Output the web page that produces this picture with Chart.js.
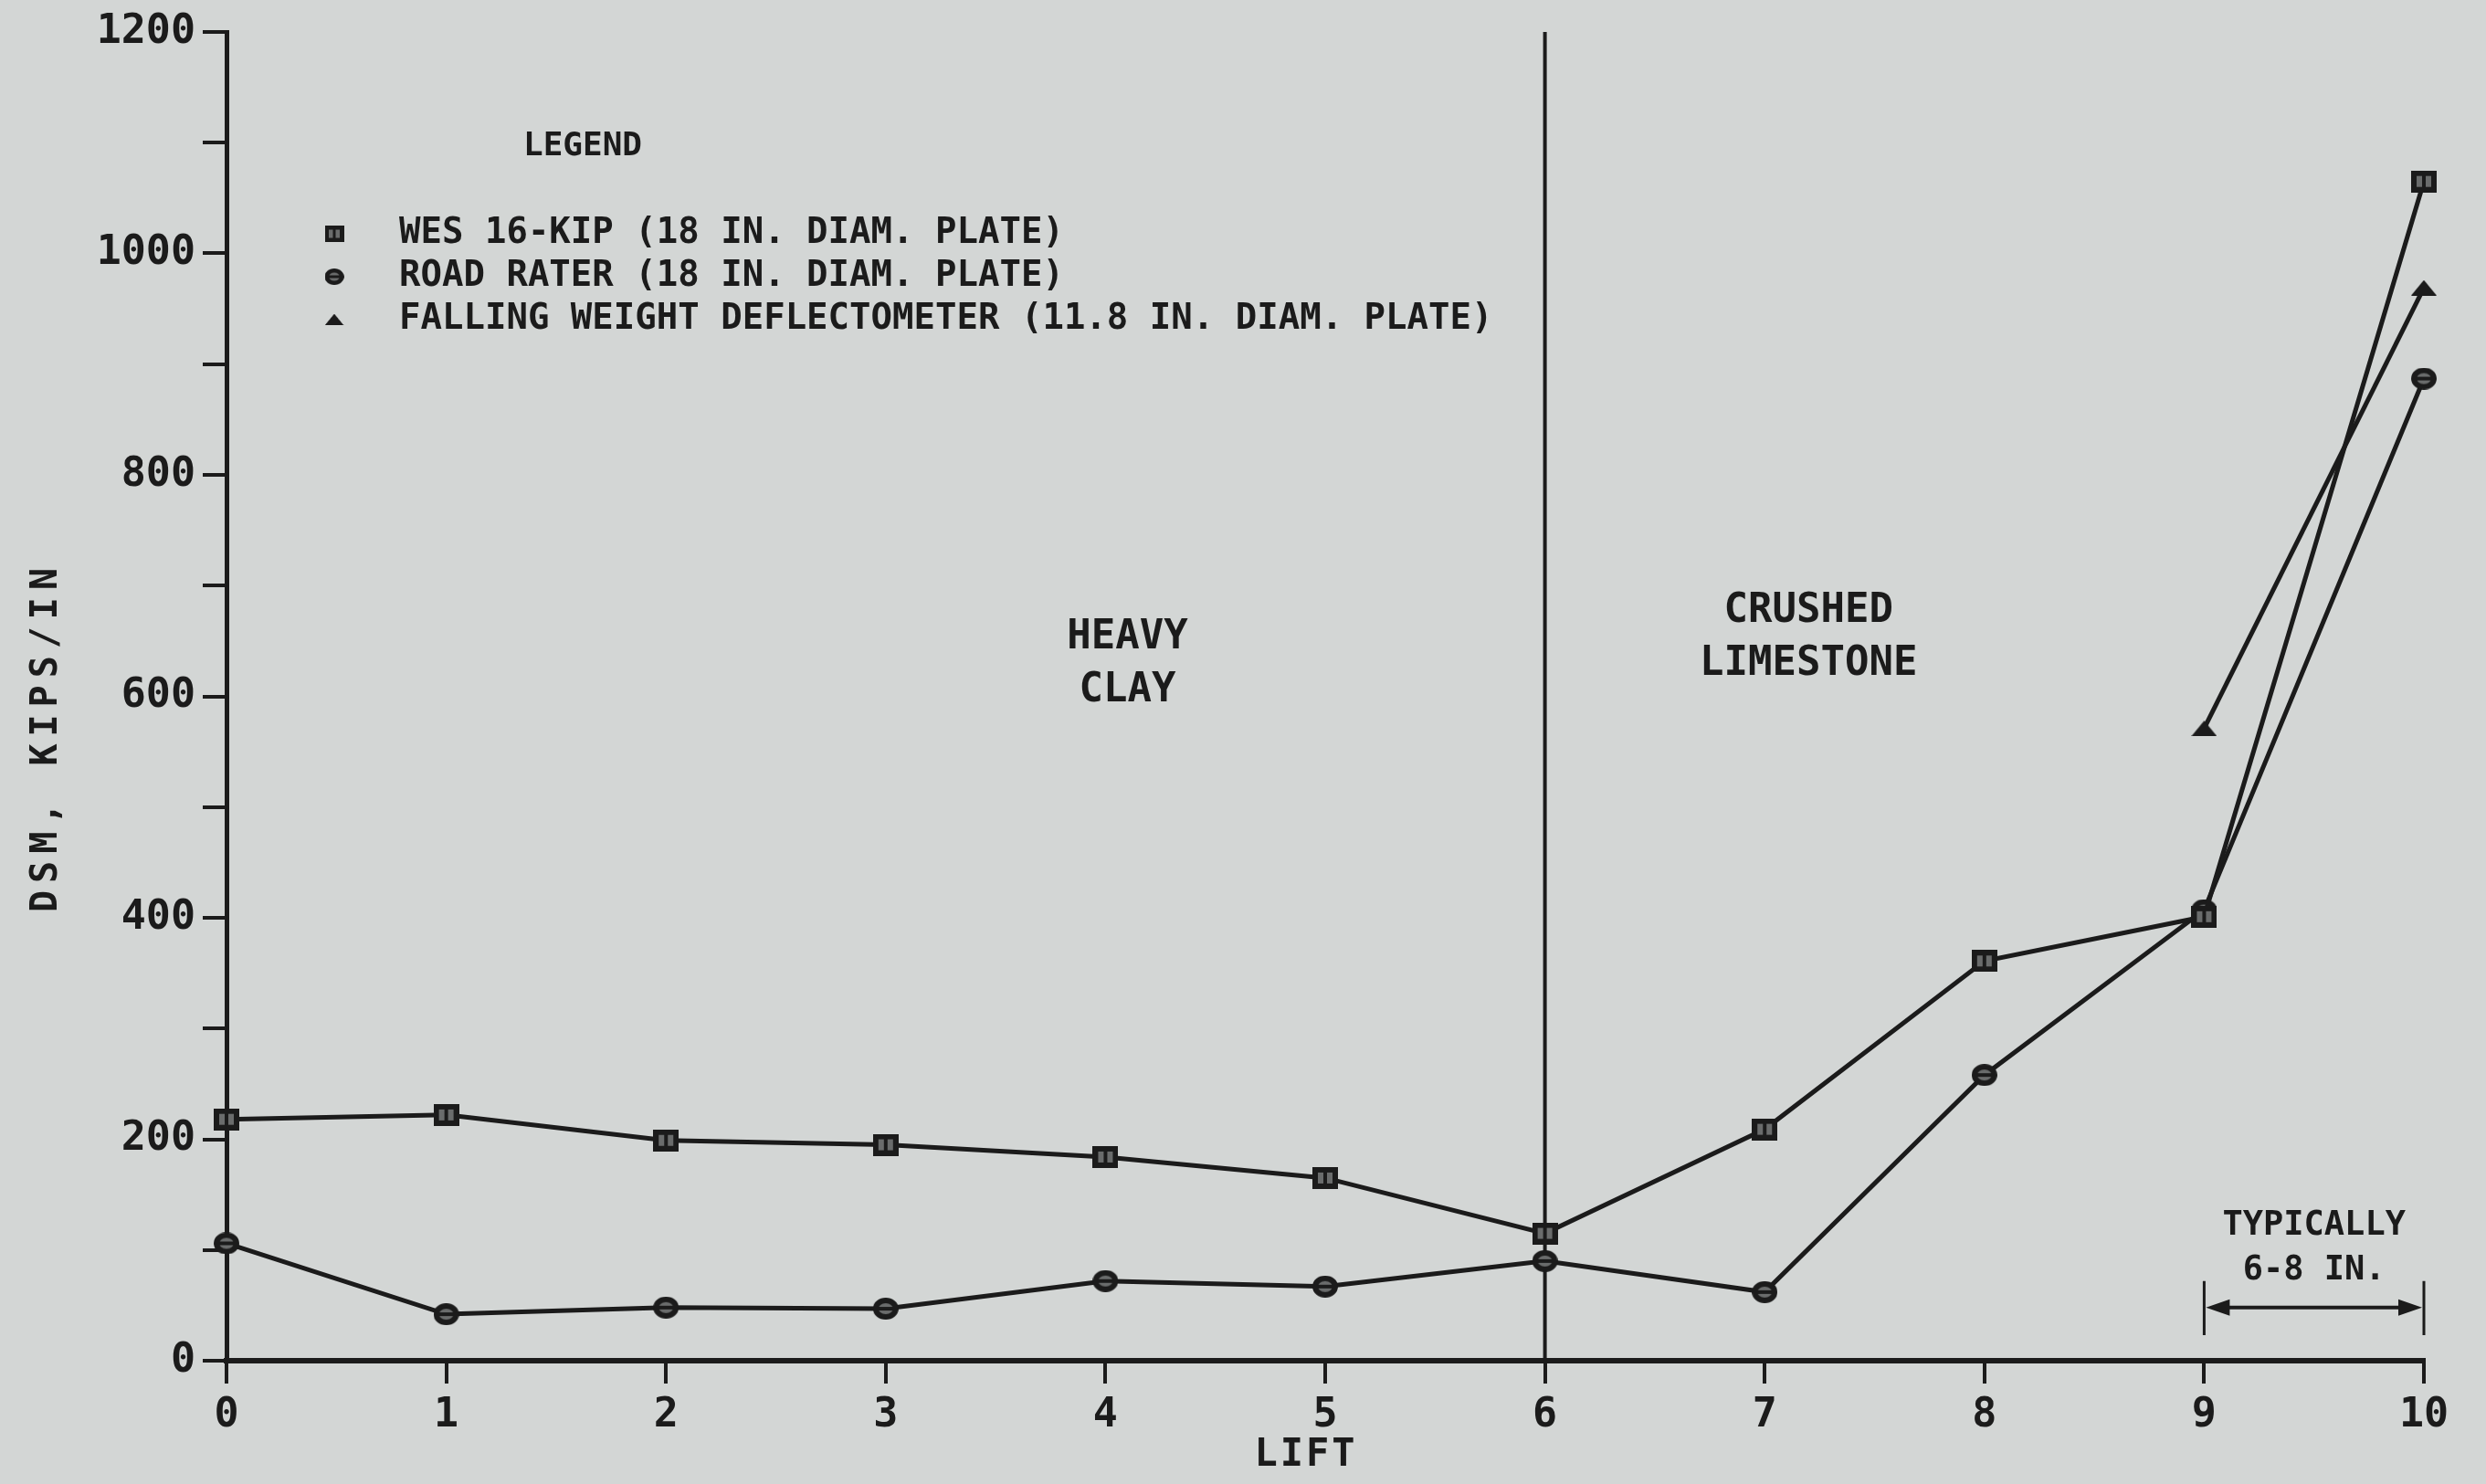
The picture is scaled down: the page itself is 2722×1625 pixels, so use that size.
<!DOCTYPE html>
<html>
<head>
<meta charset="utf-8">
<script src="https://cdn.jsdelivr.net/npm/chart.js@4.4.1/dist/chart.umd.min.js"></script>
<style>
  html, body { margin: 0; padding: 0; background: #d3d6d5; }
  canvas { display: block; }
</style>
</head>
<body>
<canvas id="dsmChart" width="2722" height="1625"></canvas>
<script>
// DSM (kips/in) measured on each lift
const lifts = [0, 1, 2, 3, 4, 5, 6, 7, 8, 9, 10];
const wesDsm = [218, 222, 199, 195, 184, 165, 115, 209, 361, 401, 1065];
const roadRaterDsm = [106, 42, 48, 47, 72, 67, 90, 62, 258, 407, 887];
const fwdLifts = [9, 10];
const fwdDsm = [571, 969];

const seriesNames = [
  'WES 16-KIP (18 IN. DIAM. PLATE)',
  'ROAD RATER (18 IN. DIAM. PLATE)',
  'FALLING WEIGHT DEFLECTOMETER (11.8 IN. DIAM. PLATE)'
];
const materialBoundary = 6;   // heavy clay below, crushed limestone above
const yMax = 1200;
const yLabelStep = 200;

const INK = '#1b1b1b';
const PAPER = '#d3d6d5';
const FONT = '"DejaVu Sans Mono", monospace';

// plotter-style marker glyphs
function makeMarker(kind) {
  const w = 28, h = kind === 'triangle' ? 17 : 24;
  const c = document.createElement('canvas');
  c.width = w; c.height = h;
  const g = c.getContext('2d');
  g.strokeStyle = INK; g.fillStyle = INK; g.lineWidth = 6;
  if (kind === 'square') {
    g.fillStyle = '#6a6c6c'; g.fillRect(0, 0, w, h);
    g.strokeRect(3, 3, w - 6, h - 6);
    g.lineWidth = 4;
    g.beginPath(); g.moveTo(w / 2, 2); g.lineTo(w / 2, h - 2); g.stroke();
  } else if (kind === 'circle') {
    g.beginPath(); g.ellipse(w / 2, h / 2, w / 2 - 3, h / 2 - 3, 0, 0, Math.PI * 2);
    g.fillStyle = '#6a6c6c'; g.fill(); g.stroke();
    g.lineWidth = 4;
    g.beginPath(); g.moveTo(3, h / 2); g.lineTo(w - 3, h / 2); g.stroke();
  } else {
    g.beginPath(); g.moveTo(w / 2, 0); g.lineTo(w, h); g.lineTo(0, h); g.closePath(); g.fill();
  }
  return c;
}
const markers = [makeMarker('square'), makeMarker('circle'), makeMarker('triangle')];

function series(label, xs, ys, marker) {
  return {
    label: label,
    data: xs.map((x, i) => ({ x: x, y: ys[i] })),
    borderColor: INK,
    borderWidth: 5,
    tension: 0,
    pointStyle: marker,
    pointRadius: 12,
    clip: false
  };
}

const paperBackground = {
  id: 'paperBackground',
  beforeDraw(chart) {
    const c = chart.ctx;
    c.save();
    c.fillStyle = PAPER;
    c.fillRect(0, 0, chart.width, chart.height);
    c.restore();
  }
};

function text(c, str, x, y, size, align, spacing) {
  c.font = 'bold ' + size + 'px ' + FONT;
  c.letterSpacing = (spacing || 0) + 'px';
  c.textAlign = align || 'left';
  c.textBaseline = 'middle';
  c.fillText(str, x, y);
}

// legend block, material labels, axis titles and the lift-thickness dimension
const annotations = {
  id: 'annotations',
  afterDraw(chart) {
    const c = chart.ctx;
    const xs = chart.scales.x, ys = chart.scales.y;
    const area = chart.chartArea;
    c.save();
    c.fillStyle = INK;
    c.strokeStyle = INK;

    // legend
    text(c, 'LEGEND', area.left + 325, area.top + 126, 36);
    seriesNames.forEach((name, i) => {
      const cy = area.top + 221 + i * 47;
      const m = markers[i];
      const mw = m.width * 0.75, mh = m.height * 0.75;
      c.drawImage(m, area.left + 118 - mw / 2, cy - mh / 2, mw, mh);
      text(c, name, area.left + 189, cy, 39);
    });

    // soil labels
    text(c, 'HEAVY', xs.getPixelForValue(4.1), ys.getPixelForValue(653), 44, 'center');
    text(c, 'CLAY', xs.getPixelForValue(4.1), ys.getPixelForValue(605), 44, 'center');
    text(c, 'CRUSHED', xs.getPixelForValue(7.2), ys.getPixelForValue(677), 44, 'center');
    text(c, 'LIMESTONE', xs.getPixelForValue(7.2), ys.getPixelForValue(629), 44, 'center');

    // typical lift thickness
    text(c, 'TYPICALLY', xs.getPixelForValue(9.5), ys.getPixelForValue(122), 37, 'center');
    text(c, '6-8 IN.', xs.getPixelForValue(9.5), ys.getPixelForValue(81), 37, 'center');
    const x9 = xs.getPixelForValue(9), x10 = xs.getPixelForValue(10);
    const ay = ys.getPixelForValue(48);
    c.lineWidth = 3;
    c.beginPath();
    c.moveTo(x9, ys.getPixelForValue(23)); c.lineTo(x9, ys.getPixelForValue(72));
    c.moveTo(x10, ys.getPixelForValue(23)); c.lineTo(x10, ys.getPixelForValue(72));
    c.stroke();
    c.lineWidth = 4;
    c.beginPath(); c.moveTo(x9 + 20, ay); c.lineTo(x10 - 20, ay); c.stroke();
    c.beginPath();
    c.moveTo(x9 + 2, ay); c.lineTo(x9 + 28, ay - 9); c.lineTo(x9 + 28, ay + 9); c.closePath();
    c.moveTo(x10 - 2, ay); c.lineTo(x10 - 28, ay - 9); c.lineTo(x10 - 28, ay + 9); c.closePath();
    c.fill();

    // axis titles
    text(c, 'LIFT', (area.left + area.right) / 2 - 21, area.bottom + 104, 42, 'center', 3);
    c.translate(52, (area.top + area.bottom) / 2 + 44);
    c.rotate(-Math.PI / 2);
    text(c, 'DSM, KIPS/IN', 0, 0, 40, 'center', 8);
    c.restore();
  }
};

const tickFont = { family: FONT, size: 45, weight: 'bold' };

new Chart(document.getElementById('dsmChart').getContext('2d'), {
  type: 'line',
  data: {
    datasets: [
      series(seriesNames[0], lifts, wesDsm, markers[0]),
      series(seriesNames[1], lifts, roadRaterDsm, markers[1]),
      series(seriesNames[2], fwdLifts, fwdDsm, markers[2]),
      {
        label: 'boundary',
        data: [{ x: materialBoundary, y: 0 }, { x: materialBoundary, y: yMax }],
        borderColor: INK,
        borderWidth: 4,
        pointRadius: 0,
        clip: false
      }
    ]
  },
  options: {
    responsive: false,
    animation: false,
    devicePixelRatio: 1,
    events: [],
    layout: { padding: { top: 32, right: 68, left: 0, bottom: 0 } },
    plugins: { legend: { display: false }, tooltip: { enabled: false } },
    scales: {
      x: {
        type: 'linear',
        min: 0,
        max: 10,
        afterFit: s => { s.height = 135; },
        ticks: { stepSize: 1, autoSkip: false, maxRotation: 0, color: INK, font: tickFont, padding: 8 },
        grid: { drawOnChartArea: false, color: INK, lineWidth: 4, tickLength: 25 },
        border: { color: INK, width: 6 }
      },
      y: {
        min: 0,
        max: yMax,
        afterFit: s => { s.width = 248; },
        ticks: {
          stepSize: 100,
          autoSkip: false,
          color: INK,
          font: tickFont,
          padding: 8,
          callback: v => (v % yLabelStep === 0 ? String(v) : '')
        },
        grid: { drawOnChartArea: false, color: INK, lineWidth: 4, tickLength: 26 },
        border: { color: INK, width: 5 }
      }
    }
  },
  plugins: [paperBackground, annotations]
});
</script>
</body>
</html>
